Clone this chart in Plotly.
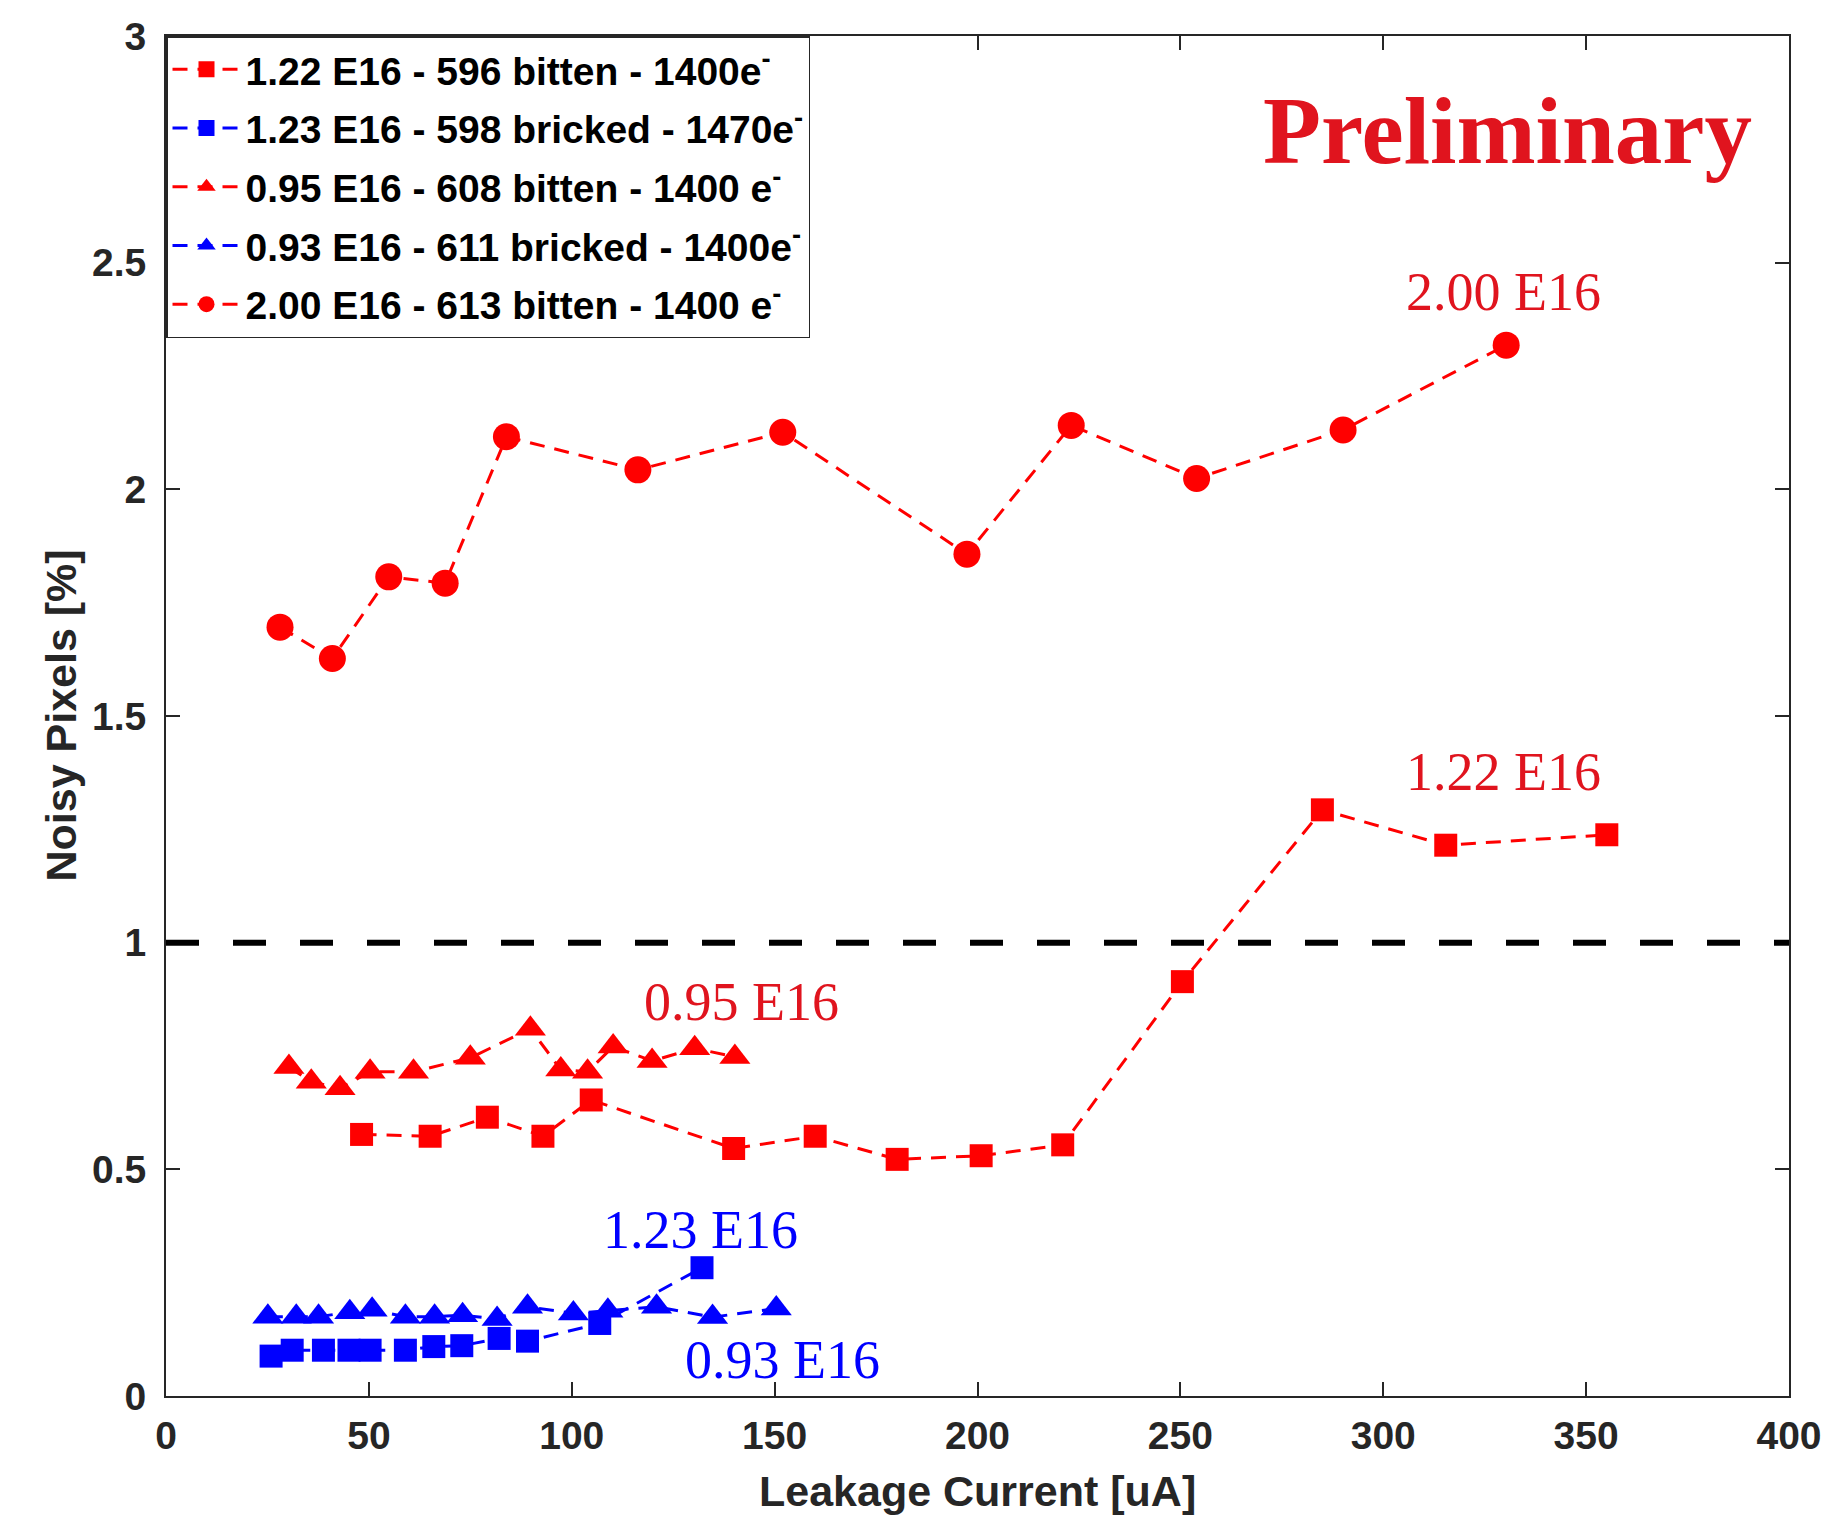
import plotly.graph_objects as go

# ---- data ----
x_596 = [48.2, 65.1, 79.2, 92.9, 104.8, 139.9, 160.0, 180.2, 200.9, 221.0, 250.5, 285.0, 315.4, 355.1]
y_596 = [0.577, 0.573, 0.615, 0.573, 0.653, 0.546, 0.573, 0.522, 0.530, 0.554, 0.914, 1.293, 1.215, 1.238]

x_598 = [25.9, 31.1, 38.8, 45.1, 50.3, 59.0, 66.0, 72.9, 82.1, 89.1, 106.9, 132.1]
y_598 = [0.088, 0.101, 0.101, 0.101, 0.101, 0.101, 0.109, 0.111, 0.127, 0.121, 0.160, 0.283]

x_608 = [30.3, 35.8, 42.9, 50.3, 61.0, 75.0, 89.8, 97.3, 103.9, 110.2, 119.8, 130.3, 140.2]
y_608 = [0.726, 0.693, 0.679, 0.715, 0.715, 0.746, 0.810, 0.720, 0.715, 0.771, 0.739, 0.767, 0.748]

x_611 = [25.1, 32.1, 37.6, 45.3, 50.8, 59.0, 66.2, 73.1, 81.6, 89.1, 100.4, 108.9, 120.9, 134.7, 150.4]
y_611 = [0.175, 0.175, 0.175, 0.185, 0.190, 0.175, 0.175, 0.178, 0.170, 0.197, 0.182, 0.188, 0.197, 0.174, 0.193]

x_613 = [28.1, 41.0, 54.9, 68.8, 83.9, 116.3, 152.0, 197.4, 223.1, 254.0, 290.1, 330.3]
y_613 = [1.696, 1.627, 1.807, 1.793, 2.116, 2.043, 2.126, 1.857, 2.141, 2.024, 2.131, 2.318]

names = [
    "1.22 E16 - 596 bitten - 1400e<sup>-</sup>",
    "1.23 E16 - 598 bricked - 1470e<sup>-</sup>",
    "0.95 E16 - 608 bitten - 1400 e<sup>-</sup>",
    "0.93 E16 - 611 bricked - 1400e<sup>-</sup>",
    "2.00 E16 - 613 bitten - 1400 e<sup>-</sup>",
]

threshold = 1.0
x_ticks = [0, 50, 100, 150, 200, 250, 300, 350, 400]
y_ticks = [0, 0.5, 1, 1.5, 2, 2.5, 3]

label_texts = ["2.00 E16", "1.22 E16", "0.95 E16", "1.23 E16", "0.93 E16"]
label_x = [329.7, 329.7, 141.9, 131.8, 152.0]
label_y = [2.436, 1.377, 0.870, 0.366, 0.079]
label_colors = ["#E0141E", "#E0141E", "#E0141E", "#0000FF", "#0000FF"]

RED = "#FF0000"
BLUE = "#0000FF"
DASH = "15px,10px"

series = [
    (x_596, y_596, RED, "square", 23),
    (x_598, y_598, BLUE, "square", 23),
    (x_608, y_608, RED, "triangle-up", 27),
    (x_611, y_611, BLUE, "triangle-up", 27),
    (x_613, y_613, RED, "circle", 27),
]

fig = go.Figure()
for i, (xs, ys, col, sym, sz) in enumerate(series):
    fig.add_trace(go.Scatter(
        x=xs, y=ys, mode="lines+markers", name=names[i],
        legendgroup=f"g{i}",
        line=dict(color=col, width=3, dash=DASH),
        marker=dict(symbol=sym, size=sz, color=col, line=dict(width=0)),
    ))

fig.add_shape(type="line", xref="paper", x0=0, x1=1, yref="y", y0=threshold, y1=threshold,
              line=dict(color="black", width=6, dash="33px,34px"), layer="above")

sans = "Liberation Sans, Arial, Helvetica, sans-serif"
serif = "Liberation Serif, Times New Roman, serif"

annotations = []
for t, ax_, ay_, c in zip(label_texts, label_x, label_y, label_colors):
    annotations.append(dict(x=ax_, y=ay_, xref="x", yref="y", text=t, showarrow=False,
                            xanchor="center", yanchor="middle",
                            font=dict(family=serif, size=54, color=c)))
annotations.append(dict(x=330.5, y=2.79, xref="x", yref="y", text="<b>Preliminary</b>",
                        showarrow=False, xanchor="center", yanchor="middle",
                        font=dict(family=serif, size=95, color="#E0141E")))
annotations.append(dict(x=0.5, y=-0.07, xref="paper", yref="paper", text="Leakage Current [uA]",
                        showarrow=False, xanchor="center", yanchor="middle",
                        font=dict(family=sans, size=43, color="#262626", weight="bold")))
annotations.append(dict(x=-0.065, y=0.5, xref="paper", yref="paper", text="Noisy Pixels [%]",
                        showarrow=False, xanchor="center", yanchor="middle", textangle=-90,
                        font=dict(family=sans, size=43, color="#262626", weight="bold")))

fig.update_layout(
    width=1834, height=1516,
    margin=dict(l=166, r=42, t=36, b=120, pad=0),
    paper_bgcolor="white", plot_bgcolor="white",
    showlegend=True,
    legend=dict(x=0, y=1, xanchor="left", yanchor="top",
                bgcolor="white", bordercolor="#262626", borderwidth=1.5,
                font=dict(family=sans, size=39, color="black", weight="bold"),
                tracegroupgap=5, itemwidth=68),
    annotations=annotations,
)
fig.update_xaxes(range=[0, 400], tickvals=x_ticks, ticktext=[str(v) for v in x_ticks],
                 showgrid=False, zeroline=False, showline=True, linecolor="#262626", linewidth=2,
                 mirror="ticks", ticks="inside", ticklen=14, tickwidth=1.5, tickcolor="#262626",
                 ticklabelstandoff=4,
                 tickfont=dict(family=sans, size=39, color="#262626", weight="bold"))
fig.update_yaxes(range=[0, 3], tickvals=y_ticks, ticktext=[("%g" % v) for v in y_ticks],
                 showgrid=False, zeroline=False, showline=True, linecolor="#262626", linewidth=2,
                 mirror="ticks", ticks="inside", ticklen=14, tickwidth=1.5, tickcolor="#262626",
                 ticklabelstandoff=10,
                 tickfont=dict(family=sans, size=39, color="#262626", weight="bold"))

fig.write_html("out.html")
